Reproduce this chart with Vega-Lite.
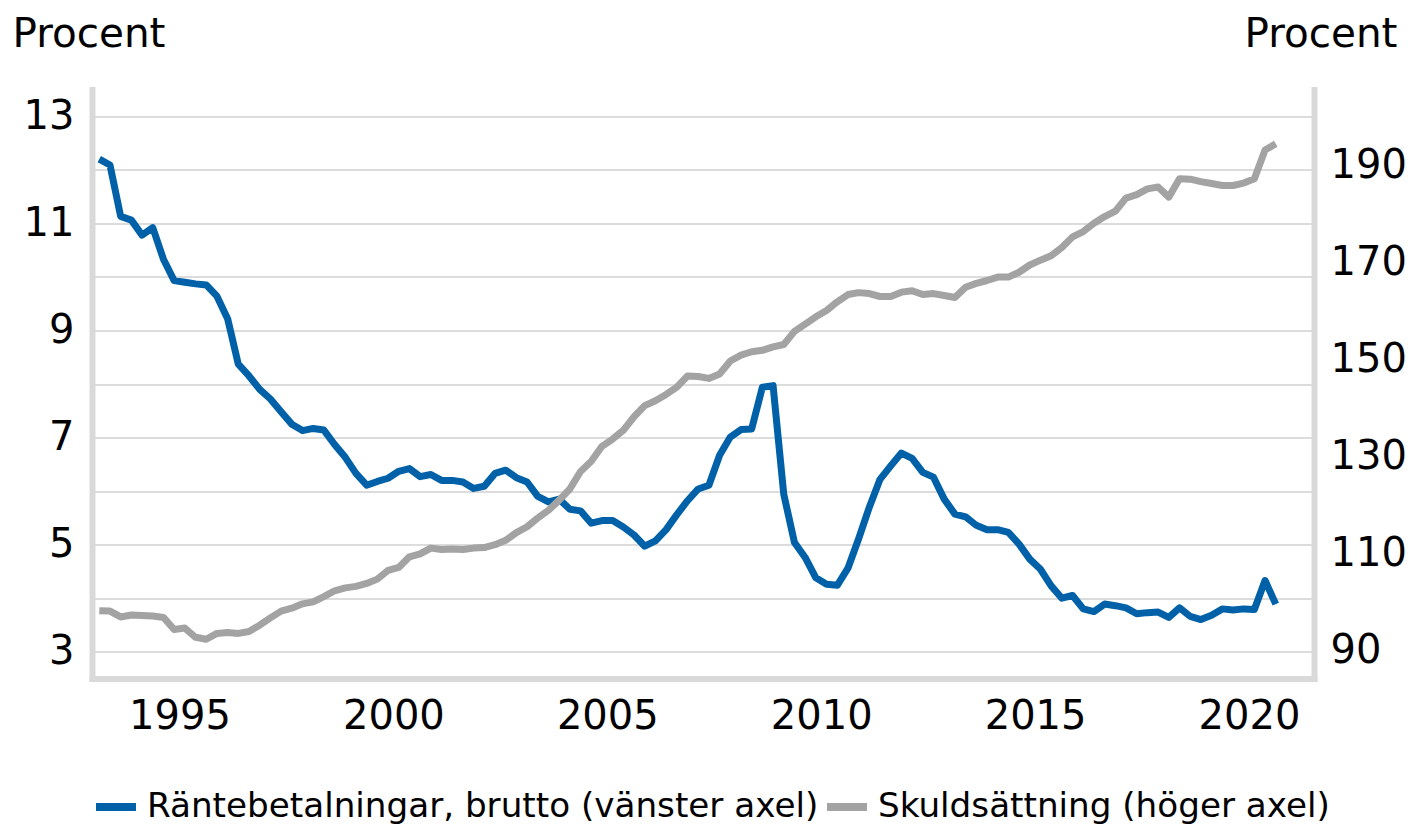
{
  "$schema": "https://vega.github.io/schema/vega-lite/v6.json",
  "width": 1222,
  "height": 589,
  "autosize": {"type": "none"},
  "padding": {"left": 92, "top": 89.5, "right": 102, "bottom": 148.5},
  "background": "white",
  "config": {"view": {"stroke": null}, "font": "DejaVu Sans"},
  "data": {"values": [
    {"t":1993.125,"r":12.20,"s":98.2},{"t":1993.375,"r":12.09,"s":98.1},{"t":1993.625,"r":11.13,"s":96.9},{"t":1993.875,"r":11.06,"s":97.3},
    {"t":1994.125,"r":10.78,"s":97.2},{"t":1994.375,"r":10.92,"s":97.1},{"t":1994.625,"r":10.33,"s":96.8},{"t":1994.875,"r":9.93,"s":94.3},
    {"t":1995.125,"r":9.90,"s":94.6},{"t":1995.375,"r":9.87,"s":92.7},{"t":1995.625,"r":9.85,"s":92.3},{"t":1995.875,"r":9.64,"s":93.5},
    {"t":1996.125,"r":9.22,"s":93.7},{"t":1996.375,"r":8.37,"s":93.5},{"t":1996.625,"r":8.15,"s":93.9},{"t":1996.875,"r":7.90,"s":95.2},
    {"t":1997.125,"r":7.72,"s":96.7},{"t":1997.375,"r":7.48,"s":98.1},{"t":1997.625,"r":7.25,"s":98.7},{"t":1997.875,"r":7.13,"s":99.6},
    {"t":1998.125,"r":7.17,"s":100.0},{"t":1998.375,"r":7.14,"s":101.1},{"t":1998.625,"r":6.87,"s":102.3},{"t":1998.875,"r":6.63,"s":102.9},
    {"t":1999.125,"r":6.33,"s":103.2},{"t":1999.375,"r":6.11,"s":103.8},{"t":1999.625,"r":6.18,"s":104.7},{"t":1999.875,"r":6.24,"s":106.5},
    {"t":2000.125,"r":6.37,"s":107.1},{"t":2000.375,"r":6.42,"s":109.3},{"t":2000.625,"r":6.27,"s":109.9},{"t":2000.875,"r":6.31,"s":111.1},
    {"t":2001.125,"r":6.20,"s":110.8},{"t":2001.375,"r":6.20,"s":110.9},{"t":2001.625,"r":6.17,"s":110.8},{"t":2001.875,"r":6.05,"s":111.1},
    {"t":2002.125,"r":6.09,"s":111.2},{"t":2002.375,"r":6.33,"s":111.8},{"t":2002.625,"r":6.39,"s":112.7},{"t":2002.875,"r":6.25,"s":114.3},
    {"t":2003.125,"r":6.17,"s":115.5},{"t":2003.375,"r":5.90,"s":117.3},{"t":2003.625,"r":5.80,"s":118.9},{"t":2003.875,"r":5.85,"s":121.0},
    {"t":2004.125,"r":5.66,"s":123.3},{"t":2004.375,"r":5.63,"s":126.9},{"t":2004.625,"r":5.40,"s":129.0},{"t":2004.875,"r":5.45,"s":132.1},
    {"t":2005.125,"r":5.45,"s":133.6},{"t":2005.375,"r":5.33,"s":135.4},{"t":2005.625,"r":5.18,"s":138.2},{"t":2005.875,"r":4.97,"s":140.5},
    {"t":2006.125,"r":5.07,"s":141.5},{"t":2006.375,"r":5.28,"s":142.8},{"t":2006.625,"r":5.56,"s":144.3},{"t":2006.875,"r":5.82,"s":146.6},
    {"t":2007.125,"r":6.04,"s":146.5},{"t":2007.375,"r":6.11,"s":146.1},{"t":2007.625,"r":6.67,"s":147.0},{"t":2007.875,"r":7.01,"s":149.7},
    {"t":2008.125,"r":7.15,"s":150.9},{"t":2008.375,"r":7.16,"s":151.6},{"t":2008.625,"r":7.94,"s":151.9},{"t":2008.875,"r":7.97,"s":152.6},
    {"t":2009.125,"r":5.94,"s":153.1},{"t":2009.375,"r":5.04,"s":155.8},{"t":2009.625,"r":4.76,"s":157.3},{"t":2009.875,"r":4.38,"s":158.8},
    {"t":2010.125,"r":4.26,"s":160.1},{"t":2010.375,"r":4.24,"s":161.9},{"t":2010.625,"r":4.56,"s":163.4},{"t":2010.875,"r":5.11,"s":163.8},
    {"t":2011.125,"r":5.70,"s":163.6},{"t":2011.375,"r":6.22,"s":163.0},{"t":2011.625,"r":6.47,"s":163.0},{"t":2011.875,"r":6.71,"s":163.9},
    {"t":2012.125,"r":6.61,"s":164.2},{"t":2012.375,"r":6.35,"s":163.4},{"t":2012.625,"r":6.26,"s":163.6},{"t":2012.875,"r":5.85,"s":163.2},
    {"t":2013.125,"r":5.57,"s":162.8},{"t":2013.375,"r":5.52,"s":164.9},{"t":2013.625,"r":5.36,"s":165.7},{"t":2013.875,"r":5.28,"s":166.3},
    {"t":2014.125,"r":5.28,"s":167.0},{"t":2014.375,"r":5.23,"s":167.0},{"t":2014.625,"r":5.01,"s":168.0},{"t":2014.875,"r":4.73,"s":169.5},
    {"t":2015.125,"r":4.54,"s":170.5},{"t":2015.375,"r":4.23,"s":171.4},{"t":2015.625,"r":4.00,"s":173.1},{"t":2015.875,"r":4.05,"s":175.3},
    {"t":2016.125,"r":3.80,"s":176.4},{"t":2016.375,"r":3.75,"s":178.1},{"t":2016.625,"r":3.89,"s":179.5},{"t":2016.875,"r":3.86,"s":180.6},
    {"t":2017.125,"r":3.82,"s":183.3},{"t":2017.375,"r":3.71,"s":184.0},{"t":2017.625,"r":3.73,"s":185.2},{"t":2017.875,"r":3.74,"s":185.6},
    {"t":2018.125,"r":3.64,"s":183.5},{"t":2018.375,"r":3.82,"s":187.3},{"t":2018.625,"r":3.66,"s":187.2},{"t":2018.875,"r":3.60,"s":186.7},
    {"t":2019.125,"r":3.68,"s":186.3},{"t":2019.375,"r":3.80,"s":185.9},{"t":2019.625,"r":3.78,"s":185.9},{"t":2019.875,"r":3.80,"s":186.4},
    {"t":2020.125,"r":3.79,"s":187.3},{"t":2020.375,"r":4.33,"s":193.2},{"t":2020.625,"r":3.89,"s":194.5}
  ]},
  "encoding": {
    "x": {
      "field": "t", "type": "quantitative",
      "scale": {"domain": [1992.955, 2021.519], "nice": false, "zero": false},
      "axis": {
        "values": [1995, 2000, 2005, 2010, 2015, 2020], "format": "d", "title": null,
        "grid": false, "ticks": false, "labelFlush": false,
        "domainColor": "#d9d9d9", "domainWidth": 6, "domainCap": "square",
        "labelPadding": 18, "labelFontSize": 40, "labelColor": "#000000"
      }
    }
  },
  "layer": [
    {
      "mark": {"type": "line", "strokeWidth": 7, "strokeJoin": "round", "strokeCap": "butt"},
      "encoding": {
        "y": {
          "field": "r", "type": "quantitative",
          "scale": {"domain": [2.5, 13.5], "nice": false, "zero": false},
          "axis": {
            "orient": "left", "values": [3, 4, 5, 6, 7, 8, 9, 10, 11, 12, 13],
            "labelExpr": "datum.value % 2 == 1 ? datum.label : ''",
            "grid": true, "gridColor": "#dcdcdc", "gridWidth": 2,
            "domainColor": "#d9d9d9", "domainWidth": 6, "domainCap": "square",
            "ticks": false, "labelPadding": 18, "labelFontSize": 40, "labelColor": "#000000",
            "title": "Procent", "titleAngle": 0, "titleAlign": "left", "titleBaseline": "alphabetic",
            "titleX": -80, "titleY": -43, "titleFontSize": 40.5, "titleFontWeight": "normal", "titleColor": "#000000"
          }
        },
        "color": {
          "datum": "Räntebetalningar, brutto (vänster axel)", "type": "nominal",
          "scale": {"domain": ["Räntebetalningar, brutto (vänster axel)", "Skuldsättning (höger axel)"], "range": ["#0061a8", "#a3a3a3"]},
          "legend": {
            "orient": "none", "legendX": 0, "legendY": 693, "direction": "horizontal", "title": null,
            "symbolType": "stroke", "symbolSize": 1600, "symbolStrokeWidth": 8,
            "labelFontSize": 34.2, "labelColor": "#000000", "labelOffset": 7, "columnPadding": -8, "labelLimit": 2000
          }
        }
      }
    },
    {
      "mark": {"type": "line", "strokeWidth": 7, "strokeJoin": "round", "strokeCap": "butt"},
      "encoding": {
        "y": {
          "field": "s", "type": "quantitative",
          "scale": {"domain": [84.2, 205.7], "nice": false, "zero": false},
          "axis": {
            "orient": "right", "values": [90, 110, 130, 150, 170, 190],
            "grid": false, "domainColor": "#d9d9d9", "domainWidth": 6, "domainCap": "square",
            "ticks": false, "labelPadding": 16, "labelFontSize": 40, "labelColor": "#000000",
            "title": "Procent", "titleAngle": 0, "titleAlign": "right", "titleBaseline": "alphabetic",
            "titleX": 83, "titleY": -43, "titleFontSize": 40.5, "titleFontWeight": "normal", "titleColor": "#000000"
          }
        },
        "color": {"datum": "Skuldsättning (höger axel)", "type": "nominal"}
      }
    }
  ],
  "resolve": {"scale": {"y": "independent"}}
}
